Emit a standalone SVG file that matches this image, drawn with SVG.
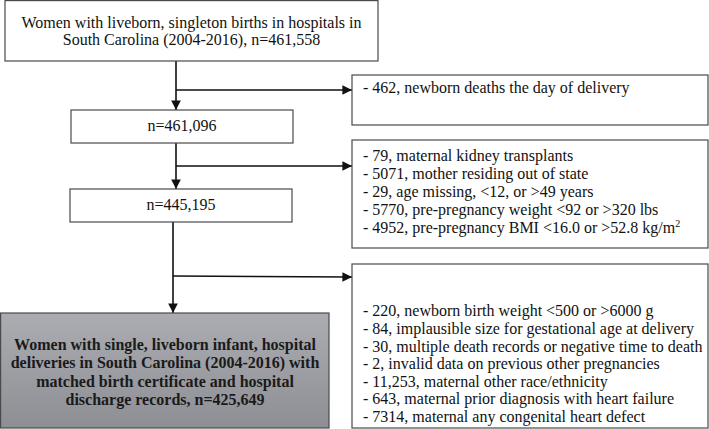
<svg xmlns="http://www.w3.org/2000/svg" width="709" height="429" viewBox="0 0 709 429">
<style>
.box{fill:#fff;stroke:#4a4a4a;stroke-width:1.2}
.t{font-family:"Liberation Serif","Times New Roman",serif;font-size:16px;fill:#111}
.c{text-anchor:middle}
.b{font-weight:bold;fill:#1a1a1a}
.ln{stroke:#111;stroke-width:1.6;fill:none}
</style>
<defs>
<marker id="ah" viewBox="0 0 10 10" refX="10" refY="5" markerWidth="6" markerHeight="6" orient="auto" markerUnits="strokeWidth">
<path d="M0,0 L10,5 L0,10 z" fill="#111"/>
</marker>
<linearGradient id="gg" x1="0" y1="0" x2="0" y2="1">
<stop offset="0" stop-color="#abadb2"/>
<stop offset="1" stop-color="#8d8f94"/>
</linearGradient>
</defs>
<g id="connectors">
<line class="ln" x1="176" y1="61" x2="176" y2="110" marker-end="url(#ah)"/>
<line class="ln" x1="176" y1="90" x2="352" y2="90" marker-end="url(#ah)"/>
<line class="ln" x1="176" y1="143" x2="176" y2="189" marker-end="url(#ah)"/>
<line class="ln" x1="176" y1="166" x2="352" y2="166" marker-end="url(#ah)"/>
<line class="ln" x1="173" y1="222" x2="173" y2="313" marker-end="url(#ah)"/>
<line class="ln" x1="173" y1="276" x2="352" y2="277" marker-end="url(#ah)"/>
</g>
<g id="n1">
<rect class="box" x="5" y="0.6" width="373" height="60.4"/>
<text class="t c" x="191.5" y="28">Women with liveborn, singleton births in hospitals in</text>
<text class="t c" x="191.5" y="45">South Carolina (2004-2016), n=461,558</text>
</g>
<g id="n2">
<rect class="box" x="71" y="110" width="222" height="33"/>
<text class="t c" x="182" y="131">n=461,096</text>
</g>
<g id="n3">
<rect class="box" x="70" y="189" width="222" height="33"/>
<text class="t c" x="181" y="210">n=445,195</text>
</g>
<g id="n4">
<rect x="0.6" y="313" width="328.4" height="115" fill="url(#gg)" stroke="#4a4a4a" stroke-width="1.2"/>
<text class="t c b" x="165" y="350">Women with single, liveborn infant, hospital</text>
<text class="t c b" x="165" y="368">deliveries in South Carolina (2004-2016) with</text>
<text class="t c b" x="165" y="387">matched birth certificate and hospital</text>
<text class="t c b" x="165" y="405">discharge records, n=425,649</text>
</g>
<g id="e1">
<rect class="box" x="352" y="75" width="356" height="50"/>
<text class="t" x="363" y="93">- 462, newborn deaths the day of delivery</text>
</g>
<g id="e2">
<rect class="box" x="352" y="140" width="356" height="108"/>
<text class="t" x="363" y="161">- 79, maternal kidney transplants</text>
<text class="t" x="363" y="179">- 5071, mother residing out of state</text>
<text class="t" x="363" y="197">- 29, age missing, &lt;12, or &gt;49 years</text>
<text class="t" x="363" y="215">- 5770, pre-pregnancy weight &lt;92 or &gt;320 lbs</text>
<text class="t" x="363" y="233">- 4952, pre-pregnancy BMI &lt;16.0 or &gt;52.8 kg/m<tspan font-size="10" dy="-6">2</tspan></text>
</g>
<g id="e3">
<rect class="box" x="352" y="264" width="356" height="164"/>
<text class="t" x="363" y="316">- 220, newborn birth weight &lt;500 or &gt;6000 g</text>
<text class="t" x="363" y="334">- 84, implausible size for gestational age at delivery</text>
<text class="t" x="363" y="351.5">- 30, multiple death records or negative time to death</text>
<text class="t" x="363" y="369">- 2, invalid data on previous other pregnancies</text>
<text class="t" x="363" y="386.5">- 11,253, maternal other race/ethnicity</text>
<text class="t" x="363" y="404">- 643, maternal prior diagnosis with heart failure</text>
<text class="t" x="363" y="421.5">- 7314, maternal any congenital heart defect</text>
</g>
</svg>
